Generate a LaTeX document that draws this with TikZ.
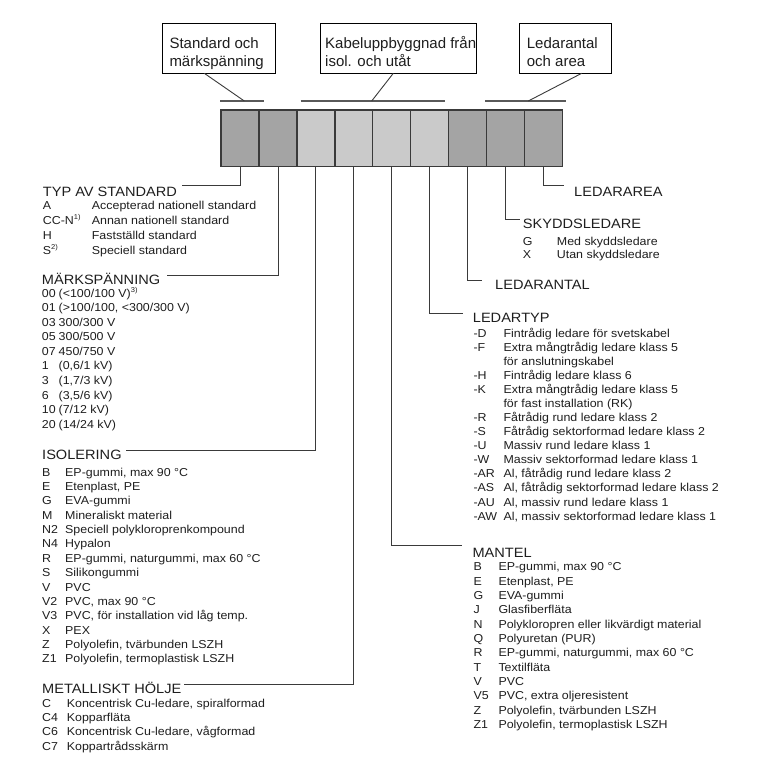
\documentclass[tikz,border=0pt]{standalone}
\usepackage{fontspec}
\setmainfont[FakeStretch=1.08]{Liberation Sans}
\newfontfamily\boxfont{Liberation Sans}
\definecolor{cdark}{HTML}{A4A4A4}
\definecolor{clight}{HTML}{CACACA}
\definecolor{ink}{HTML}{1E1E1E}
\definecolor{wire}{HTML}{3A3A3A}
\newcommand\supnote[1]{\textsuperscript{\fontsize{7}{7}\selectfont #1}}
\begin{document}
\begin{tikzpicture}[x=1pt,y=-1pt,
  cellbox/.style={draw=wire, line width=1.2pt, minimum width=37.97pt, minimum height=56.7pt, inner sep=0pt, outer sep=0pt, anchor=north west},
  labelbox/.style={draw=black, line width=0.9pt, fill=white, inner sep=0pt, outer sep=0pt, anchor=north west, minimum height=50pt},
  boxtxt/.style={anchor=base west, inner sep=0pt, font=\boxfont\fontsize{15}{17}\selectfont, text=ink},
  head/.style={anchor=base west, inner sep=0pt, font=\fontsize{13.5}{15}\selectfont, text=ink},
  item/.style={anchor=base west, inner sep=0pt, font=\fontsize{11.5}{13}\selectfont, text=ink},
  conn/.style={draw=wire, line width=0.9pt},
  barline/.style={draw=black!65, line width=1.1pt}]
\useasboundingbox (0,0) rectangle (765,781);

% ---- label boxes
\node[labelbox, minimum width=113pt] (b1) at (162.7,23.3) {};
\node[labelbox, minimum width=156.7pt] (b2) at (320,23.3) {};
\node[labelbox, minimum width=92pt] (b3) at (519,23.3) {};
\node[boxtxt] (b1t1) at (169.3,49) {Standard och};
\node[boxtxt] (b1t2) at (169.3,66.5) {märkspänning};
\node[boxtxt] (b2t1) at (325,49) {Kabeluppbyggnad från};
\node[boxtxt] (b2t2) at (325,66.5) {isol. och utåt};
\node[boxtxt] (b3t1) at (526.7,49) {Ledarantal};
\node[boxtxt] (b3t2) at (526.7,66.5) {och area};

% ---- bars and pointers
\coordinate (bar1l) at (220,101); \coordinate (bar1r) at (264,101);
\coordinate (bar2l) at (300.7,101); \coordinate (bar2r) at (445.3,101);
\coordinate (bar3l) at (485,101); \coordinate (bar3r) at (565.5,101);
\draw[barline] (bar1l) -- (bar1r);
\draw[barline] (bar2l) -- (bar2r);
\draw[barline] (bar3l) -- (bar3r);
\coordinate (d1a) at (204.3,73.3); \coordinate (d1b) at (244.3,101);
\coordinate (d2a) at (393.3,73.3); \coordinate (d2b) at (371.7,101);
\coordinate (d3a) at (581.7,73.3); \coordinate (d3b) at (528.3,101);
\draw[conn] (d1a) -- (d1b);
\draw[conn] (d2a) -- (d2b);
\draw[conn] (d3a) -- (d3b);

% ---- cells
\foreach \i/\col in {1/cdark,2/cdark,3/clight,4/clight,5/clight,6/clight,7/cdark,8/cdark,9/cdark}
  \node[cellbox, fill=\col] (c\i) at ({221+(\i-1)*37.97},110) {};

% ---- headings
\node[head] (hTyp) at (42.7,196.7) {TYP AV STANDARD};
\node[head] (hMark) at (41.7,284.7) {MÄRKSPÄNNING};
\node[head] (hIso) at (42,459.5) {ISOLERING};
\node[head] (hMet) at (42,693.5) {METALLISKT HÖLJE};
\node[head] (hArea) at (574,196.2) {LEDARAREA};
\node[head] (hSky) at (522.7,228.8) {SKYDDSLEDARE};
\node[head] (hAnt) at (495,289.5) {LEDARANTAL};
\node[head] (hTyp2) at (472.7,322.8) {LEDARTYP};
\node[head] (hMan) at (472.3,557.2) {MANTEL};

% ---- connectors
\coordinate (e1) at (181.7,185);
\coordinate (e2) at (166.7,275.5);
\coordinate (e3) at (126,450.7);
\coordinate (e4) at (184,684.5);
\coordinate (e5) at (461.7,545.7);
\coordinate (e6) at (463.3,313.3);
\coordinate (e7) at (481.7,280);
\coordinate (e8) at (520,219.3);
\coordinate (e9) at (564,185);
\foreach \i in {1,...,9} \draw[conn] (c\i.south) |- (e\i);

% ---- lists
\foreach[count=\i] \c/\d in {A/Accepterad nationell standard, CC-N\supnote{1)}/Annan nationell standard, H/Fastställd standard, S\supnote{2)}/Speciell standard}{
  \node[item] (typc\i) at (42.7,{194+15*\i}) {\c};
  \node[item] (typd\i) at (91.7,{194+15*\i}) {\d};
}
\foreach[count=\i] \c/\d in {00/{(<100/100 V)\supnote{3)}}, 01/{(>100/100, <300/300 V)}, 03/{300/300 V}, 05/{300/500 V}, 07/{450/750 V}, 1/{(0,6/1 kV)}, 3/{(1,7/3 kV)}, 6/{(3,5/6 kV)}, 10/{(7/12 kV)}, 20/{(14/24 kV)}}{
  \node[item] (mkc\i) at (41.7,{282.65+14.55*\i}) {\c};
  \node[item] (mkd\i) at (58.5,{282.65+14.55*\i}) {\d};
}
\foreach[count=\i] \c/\d in {B/{EP-gummi, max 90 °C}, E/{Etenplast, PE}, G/EVA-gummi, M/Mineraliskt material, N2/Speciell polykloroprenkompound, N4/Hypalon, R/{EP-gummi, naturgummi, max 60 °C}, S/Silikongummi, V/PVC, V2/{PVC, max 90 °C}, V3/{PVC, för installation vid låg temp.}, X/PEX, Z/{Polyolefin, tvärbunden LSZH}, Z1/{Polyolefin, termoplastisk LSZH}}{
  \node[item] (isc\i) at (42,{461.62+14.38*\i}) {\c};
  \node[item] (isd\i) at (65,{461.62+14.38*\i}) {\d};
}
\foreach[count=\i] \c/\d in {C/{Koncentrisk Cu-ledare, spiralformad}, C4/Kopparfläta, C6/{Koncentrisk Cu-ledare, vågformad}, C7/Koppartrådsskärm}{
  \node[item] (mec\i) at (42,{692.67+14.33*\i}) {\c};
  \node[item] (med\i) at (66.7,{692.67+14.33*\i}) {\d};
}
\foreach[count=\i] \c/\d in {G/Med skyddsledare, X/Utan skyddsledare}{
  \node[item] (skc\i) at (522.7,{231.7+13.5*\i}) {\c};
  \node[item] (skd\i) at (556.7,{231.7+13.5*\i}) {\d};
}
\foreach[count=\i] \c/\d in {-D/Fintrådig ledare för svetskabel, -F/Extra mångtrådig ledare klass 5, {}/för anslutningskabel, -H/Fintrådig ledare klass 6, -K/Extra mångtrådig ledare klass 5, {}/{för fast installation (RK)}, -R/Fåtrådig rund ledare klass 2, -S/Fåtrådig sektorformad ledare klass 2, -U/Massiv rund ledare klass 1, -W/Massiv sektorformad ledare klass 1, -AR/{Al, fåtrådig rund ledare klass 2}, -AS/{Al, fåtrådig sektorformad ledare klass 2}, -AU/{Al, massiv rund ledare klass 1}, -AW/{Al, massiv sektorformad ledare klass 1}}{
  \node[item] (ltc\i) at (473.3,{323.24+14.06*\i}) {\c};
  \node[item] (ltd\i) at (503.3,{323.24+14.06*\i}) {\d};
}
\foreach[count=\i] \c/\d in {B/{EP-gummi, max 90 °C}, E/{Etenplast, PE}, G/EVA-gummi, J/Glasfiberfläta, N/Polykloropren eller likvärdigt material, Q/Polyuretan (PUR), R/{EP-gummi, naturgummi, max 60 °C}, T/Textilfläta, V/PVC, V5/{PVC, extra oljeresistent}, Z/{Polyolefin, tvärbunden LSZH}, Z1/{Polyolefin, termoplastisk LSZH}}{
  \node[item] (mac\i) at (473.3,{556.37+14.33*\i}) {\c};
  \node[item] (mad\i) at (498.3,{556.37+14.33*\i}) {\d};
}
\end{tikzpicture}
\end{document}
